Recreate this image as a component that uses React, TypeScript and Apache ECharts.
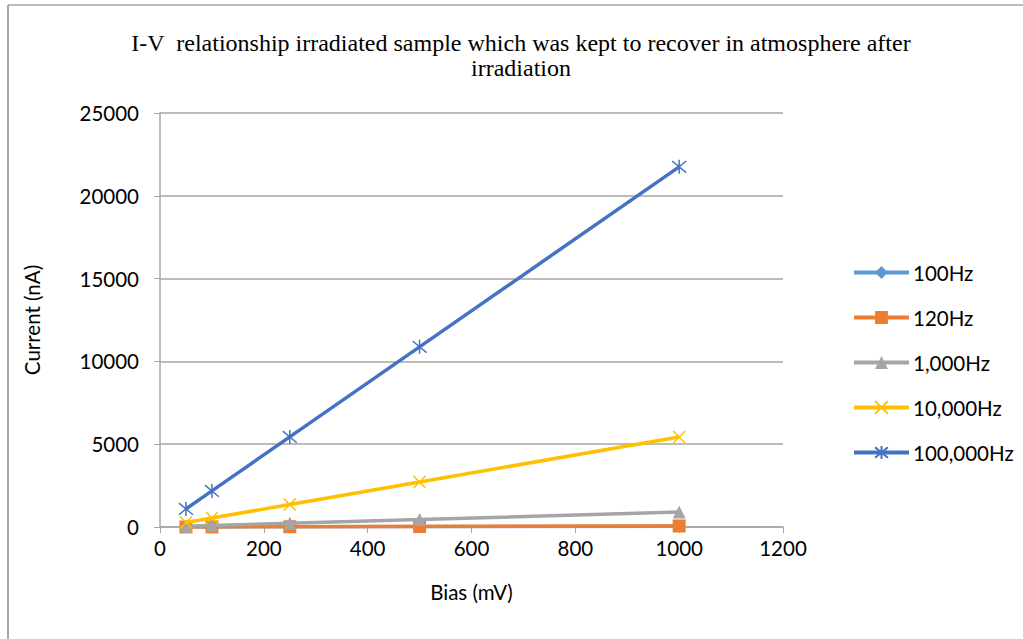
import React, { useEffect, useRef } from "react";
import * as echarts from "echarts";

const titleLines = [
  "I-V  relationship irradiated sample which was kept to recover in atmosphere after",
  "irradiation",
];
const bias = [50, 100, 250, 500, 1000];
const seriesNames = ["100Hz", "120Hz", "1,000Hz", "10,000Hz", "100,000Hz"];
const s100 = [2.5, 5, 12, 25, 50];
const s120 = [3, 6, 15, 30, 60];
const s1000 = [45, 90, 225, 450, 900];
const s10000 = [272, 543, 1360, 2720, 5440];
const s100000 = [1090, 2180, 5440, 10880, 21750];
const seriesValues = [s100, s120, s1000, s10000, s100000];
const colors = ["#5B9BD5", "#ED7D31", "#A5A5A5", "#FFC000", "#4472C4"];
const xTitle = "Bias (mV)";
const yTitle = "Current (nA)";

const FONT = "Lato";
const FS = 20.5;

export default function App() {
  const ref = useRef<HTMLDivElement>(null);
  useEffect(() => {
    const chart = echarts.init(ref.current!, null, { renderer: "svg" });
    const symbols = [
      "diamond",
      "rect",
      "triangle",
      "path://M0,0L10,10M10,0L0,10",
      "path://M0,0L10,10M10,0L0,10M5,-1L5,11",
    ];
    const sizes = [12, 13, 13, 12, 14];
    const strokeOnly = [false, false, false, true, true];
    chart.setOption({
      animation: false,
      backgroundColor: "#ffffff",
      graphic: [
        {
          type: "line",
          shape: { x1: 8, y1: 5, x2: 8, y2: 639 },
          style: { stroke: "#a6a6a6", lineWidth: 2 },
        },
        {
          type: "line",
          shape: { x1: 8, y1: 5, x2: 1023, y2: 5 },
          style: { stroke: "#a6a6a6", lineWidth: 1.5 },
        },
        ...titleLines.map((t, i) => ({
          type: "text",
          x: 521,
          y: 43 + i * 25,
          style: {
            text: t,
            fill: "#000",
            font: '24px "Liberation Serif"',
            textAlign: "center",
            textVerticalAlign: "middle",
          },
        })),
      ],
      grid: { left: 160, right: 240, top: 113, bottom: 112, containLabel: false },
      legend: {
        orient: "vertical",
        left: 847,
        top: 257,
        itemWidth: 55,
        itemHeight: 16,
        itemGap: 24,
        data: seriesNames,
        lineStyle: { width: 4 },
        textStyle: { fontFamily: FONT, fontSize: FS, color: "#000", padding: [0, 0, 0, -1] },
      },
      xAxis: {
        type: "value",
        min: 0,
        max: 1200,
        interval: 200,
        name: xTitle,
        nameLocation: "middle",
        nameGap: 54,
        nameTextStyle: { fontFamily: FONT, fontSize: FS, color: "#000" },
        axisLine: { show: true, lineStyle: { color: "#a6a6a6", width: 1.5 } },
        axisTick: { show: true, length: 6, lineStyle: { color: "#a6a6a6" } },
        axisLabel: {
          fontFamily: FONT,
          fontSize: FS,
          color: "#000",
          margin: 10,
          formatter: (v: number) => String(v),
        },
        splitLine: { show: false },
      },
      yAxis: {
        type: "value",
        min: 0,
        max: 25000,
        interval: 5000,
        name: yTitle,
        nameLocation: "middle",
        nameGap: 118,
        nameTextStyle: { fontFamily: FONT, fontSize: FS, color: "#000" },
        axisLine: { show: true, lineStyle: { color: "#a6a6a6", width: 1.5 } },
        axisTick: { show: true, length: 6, lineStyle: { color: "#a6a6a6" } },
        axisLabel: {
          fontFamily: FONT,
          fontSize: FS,
          color: "#000",
          margin: 21,
          formatter: (v: number) => String(v),
        },
        splitLine: { show: true, lineStyle: { color: "#a6a6a6", width: 1.5 } },
      },
      series: seriesNames.map((name, i) => ({
        name,
        type: "line",
        data: bias.map((b, j) => [b, seriesValues[i][j]]),
        symbol: symbols[i],
        symbolSize: sizes[i],
        showAllSymbol: true,
        lineStyle: { color: colors[i], width: 3.5 },
        itemStyle: strokeOnly[i]
          ? { color: "none", borderColor: colors[i], borderWidth: 1.5 }
          : { color: colors[i], borderColor: colors[i], borderWidth: 0 },
        emphasis: { disabled: true },
        z: 2 + i,
      })),
    });
    return () => chart.dispose();
  }, []);
  return (
    <div
      ref={ref}
      style={{ position: "absolute", left: 0, top: 0, width: 1023, height: 639 }}
    />
  );
}
